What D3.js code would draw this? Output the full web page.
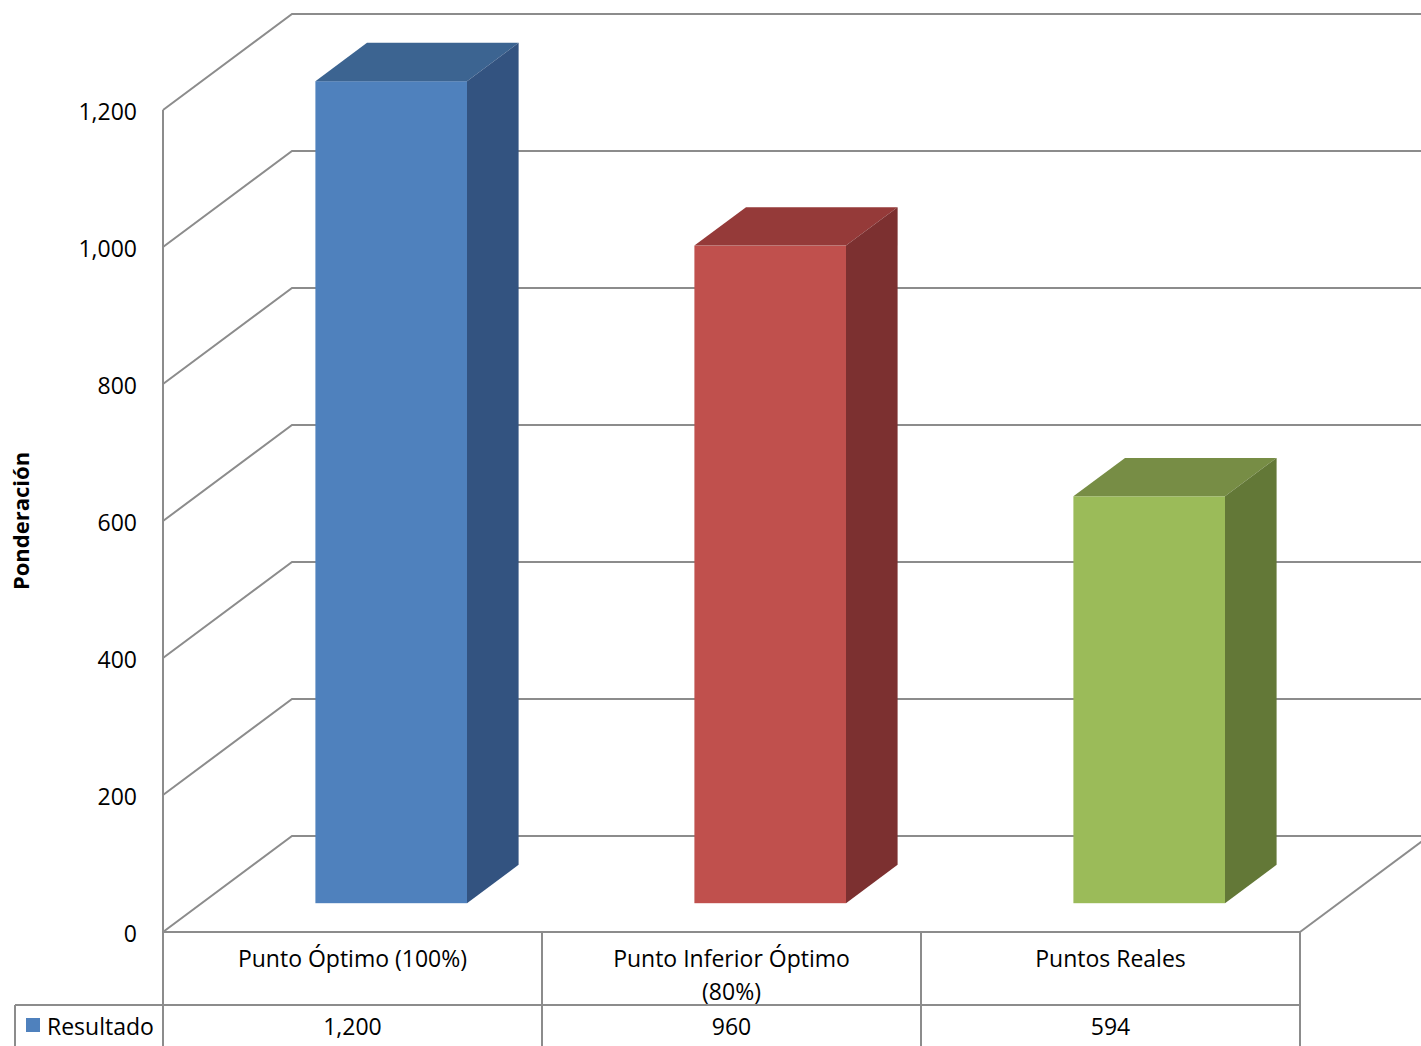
<!DOCTYPE html>
<html>
<head>
<meta charset="utf-8">
<script src="https://cdn.jsdelivr.net/npm/d3@7"></script>
<style>
  html, body { margin: 0; padding: 0; background: #fff; }
  svg { display: block; }
  text { font-family: "Open Sans", "Noto Sans", sans-serif; fill: #000; }
</style>
</head>
<body>
<svg id="chart" width="1421" height="1046"></svg>
<script>
// Data
const categories = ["Punto Óptimo (100%)", "Punto Inferior Óptimo (80%)", "Puntos Reales"];
const categoryLines = [["Punto Óptimo (100%)"], ["Punto Inferior Óptimo", "(80%)"], ["Puntos Reales"]];
const values = [1200, 960, 594];
const valueLabels = ["1,200", "960", "594"];
const seriesName = "Resultado";
const yTicks = [0, 200, 400, 600, 800, 1000, 1200];
const yTickLabels = ["0", "200", "400", "600", "800", "1,000", "1,200"];
const axisTitle = "Ponderación";

// Per-bar face colours: front, top, side
const faceColors = [
  { front: "#4F81BD", top: "#3C6491", side: "#335380" },
  { front: "#C0504D", top: "#953A39", side: "#7C3030" },
  { front: "#9BBB59", top: "#778D45", side: "#637837" }
];

const svg = d3.select("#chart");
const gridColor = "#8c8c8c";

// Front plane scales
const x = d3.scaleBand().domain(categories).range([163, 1300]).paddingInner(0).paddingOuter(0);
const y = d3.scaleLinear().domain([0, 1200]).range([932, 110]);

// Oblique depth: d in [0,1] maps to a shift toward the back wall
const depthX = 129, depthY = -96;
const shift = d => [depthX * d, depthY * d];
const barFront = 0.3, barBack = 0.7;

const walls = svg.append("g").attr("fill", "none").attr("stroke", gridColor).attr("stroke-width", 2);

// Back wall gridlines and side wall diagonals
yTicks.forEach(v => {
  const [bx, by] = shift(1);
  walls.append("path")
    .attr("d", `M${x.range()[0]},${y(v)} L${x.range()[0] + bx},${y(v) + by} L${1421 + 10},${y(v) + by}`);
});
// Side wall front edge
walls.append("line").attr("x1", 163).attr("x2", 163).attr("y1", y(1200)).attr("y2", 1046);
// Floor front edge and right diagonal
walls.append("line").attr("x1", 163).attr("x2", 1300).attr("y1", y(0)).attr("y2", y(0));
walls.append("line").attr("x1", 1300).attr("y1", y(0))
  .attr("x2", 1300 + shift(1)[0]).attr("y2", y(0) + shift(1)[1]);

// Bars as oblique boxes
const bars = svg.append("g");
categories.forEach((c, i) => {
  const bw = x.bandwidth();
  const [fx, fy] = shift(barFront);
  const [kx, ky] = shift(barBack);
  const x0 = x(c) + bw * 0.3 + fx, x1 = x(c) + bw * 0.7 + fx;
  const yb = y(0) + fy, yt = y(values[i]) + fy;
  const dx = kx - fx, dy = ky - fy;
  const col = faceColors[i];
  // front
  bars.append("rect").attr("x", x0).attr("y", yt).attr("width", x1 - x0).attr("height", yb - yt)
    .attr("fill", col.front);
  // top
  bars.append("path")
    .attr("d", `M${x0},${yt} L${x0 + dx},${yt + dy} L${x1 + dx},${yt + dy} L${x1},${yt} Z`)
    .attr("fill", col.top);
  // side
  bars.append("path")
    .attr("d", `M${x1},${yt} L${x1 + dx},${yt + dy} L${x1 + dx},${yb + dy} L${x1},${yb} Z`)
    .attr("fill", col.side);
});

// Y tick labels
const labels = svg.append("g").attr("font-size", 23);
yTicks.forEach((v, i) => {
  labels.append("text").attr("x", 137).attr("y", y(v) + 10).attr("text-anchor", "end").text(yTickLabels[i]);
});

// Axis title
svg.append("text")
  .attr("transform", "translate(29,521) rotate(-90)")
  .attr("text-anchor", "middle").attr("font-size", 22).attr("font-weight", "bold")
  .text(axisTitle);

// Data table
const table = svg.append("g").attr("fill", "none").attr("stroke", gridColor).attr("stroke-width", 2);
table.append("line").attr("x1", 15).attr("x2", 1300).attr("y1", 1005).attr("y2", 1005);
table.append("line").attr("x1", 15).attr("x2", 15).attr("y1", 1005).attr("y2", 1046);
categories.forEach(c => {
  table.append("line").attr("x1", x(c) + x.bandwidth()).attr("x2", x(c) + x.bandwidth())
    .attr("y1", y(0)).attr("y2", 1046);
});

const tableText = svg.append("g").attr("font-size", 23).attr("text-anchor", "middle");
categories.forEach((c, i) => {
  const cx = x(c) + x.bandwidth() / 2;
  categoryLines[i].forEach((line, j) => {
    tableText.append("text").attr("x", cx).attr("y", 967 + j * 33).text(line);
  });
  tableText.append("text").attr("x", cx).attr("y", 1035).text(valueLabels[i]);
});

// Legend key in the table
svg.append("rect").attr("x", 26).attr("y", 1018).attr("width", 14).attr("height", 14).attr("fill", faceColors[0].front);
svg.append("text").attr("x", 47).attr("y", 1035).attr("font-size", 23).text(seriesName);
</script>
</body>
</html>
